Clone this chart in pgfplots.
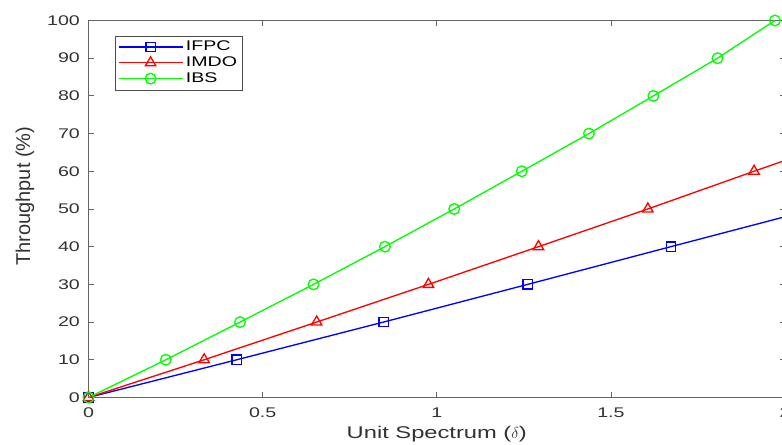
\documentclass[border=0pt]{standalone}
\usepackage{pgfplots}
\pgfplotsset{compat=1.18}
\usepackage{fontspec}
\setmainfont{Liberation Sans}
\newfontfamily\widefont{Liberation Sans}[FakeStretch=1.4]
\definecolor{mblue}{RGB}{0,0,255}
\definecolor{mred}{RGB}{255,0,0}
\definecolor{mgreen}{RGB}{0,255,0}
\definecolor{axgray}{RGB}{100,100,100}
\definecolor{txtgray}{RGB}{50,50,50}
\begin{document}
\begin{tikzpicture}
\begin{axis}[
  name=ax,
  scale only axis,
  width=522.4pt, height=282.75pt,
  xmin=0, xmax=2, ymin=0, ymax=100,
  xtick={0,0.5,1,1.5,2},
  ytick={0,10,...,100},
  tick align=inside,
  major tick length=4pt,
  axis line style={axgray, line width=0.6pt},
  every tick/.style={axgray, line width=0.6pt},
  /pgf/number format/assume math mode=true,
  tick label style={txtgray, font=\widefont\fontsize{10.5}{12}\selectfont},
  xticklabel style={yshift=-4pt},
  yticklabel style={xshift=-3pt},
  xlabel={Unit Spectrum ($\delta$)},
  ylabel={Throughput (\%)},
  xlabel style={txtgray, font=\widefont\fontsize{12.7}{14}\selectfont, at={(axis description cs:0.5,-0.0968)}, anchor=center},
  ylabel style={txtgray, font=\fontsize{15}{17}\selectfont, at={(axis description cs:-0.0912,0.534)}, anchor=center},
  legend style={at={(0.038,0.96)}, anchor=north west, draw=black!70,
    font=\widefont\fontsize{10.5}{11}\selectfont, row sep=-1pt, inner sep=2pt,
    nodes={inner sep=2pt}},
  legend cell align=left,
  legend image code/.code={
    \draw[line width=1pt, mark repeat=2, mark phase=2] plot coordinates {(0pt,0pt) (24pt,0pt) (48pt,0pt)};
  },
  every axis plot/.append style={line width=1pt},
]
\addplot[mblue, mark=square, mark size=3.5pt, mark options={solid}] coordinates {
  (0,0) (0.4255,10) (0.847,20) (1.261,30) (1.672,40) (2.085,50)
};
\addlegendentry{IFPC}
\addplot[mred, mark=triangle, mark size=4.5pt, mark options={solid}] coordinates {
  (0,0) (0.332,10) (0.655,20) (0.976,30) (1.292,40) (1.606,50) (1.911,60) (2.22,70)
};
\addlegendentry{IMDO}
\addplot[mgreen, mark=o, mark size=4pt, mark options={solid}] coordinates {
  (0,0) (0.222,10) (0.435,20) (0.646,30) (0.851,40) (1.05,50) (1.244,60) (1.437,70) (1.622,80) (1.806,90) (1.971,100)
};
\addlegendentry{IBS}
\end{axis}
\pgfresetboundingbox
\path[use as bounding box] ([xshift=-66.4pt,yshift=-34.9pt]ax.south west) rectangle ([xshift=520.1pt,yshift=298.1pt]ax.south west);
\end{tikzpicture}
\end{document}
